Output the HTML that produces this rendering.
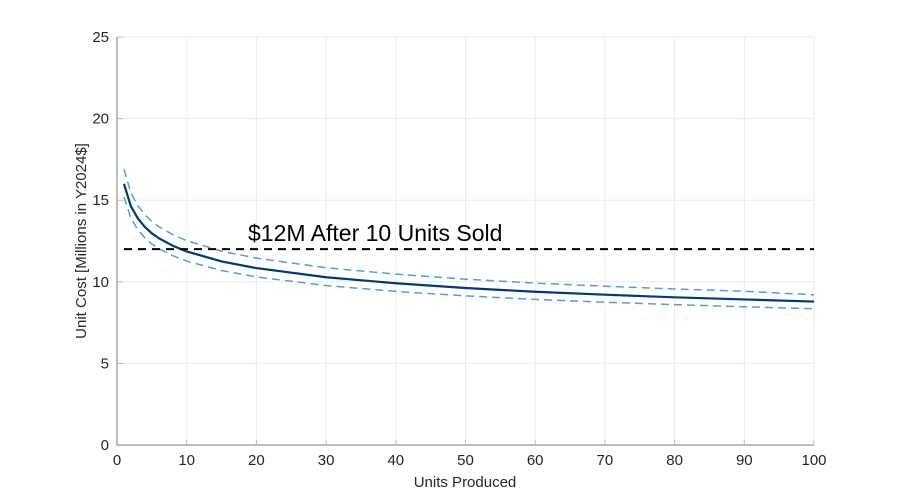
<!DOCTYPE html>
<html><head><meta charset="utf-8">
<style>
html,body{margin:0;padding:0;background:#fff;}
svg{display:block;font-family:"Liberation Sans",sans-serif;}
</style></head>
<body>
<svg id="chart" width="900" height="500" viewBox="0 0 900 500" xmlns="http://www.w3.org/2000/svg">
<g id="grid"></g>
<g id="axes"></g>
<g id="series"></g>
<text x="465" y="487" font-size="15" fill="#262626" text-anchor="middle">Units Produced</text>
<text transform="translate(86,241) rotate(-90)" font-size="15" fill="#262626" text-anchor="middle">Unit Cost  [Millions in Y2024$]</text>
<text x="248" y="241" font-size="23" fill="#000">$12M After 10 Units Sold</text>
</svg>
<script>
const units = [1,2,3,4,5,6,8,10,15,20,30,40,50,60,70,80,90,100];
const costMid = [16.0,14.62,13.88,13.36,12.97,12.67,12.21,11.86,11.25,10.84,10.28,9.91,9.62,9.39,9.21,9.05,8.92,8.79];
const costUpper = [16.9,15.44,14.66,14.11,13.70,13.38,12.89,12.52,11.88,11.45,10.86,10.47,10.16,9.92,9.73,9.56,9.42,9.2];
const costLower = [15.2,13.89,13.19,12.69,12.32,12.04,11.60,11.27,10.69,10.30,9.77,9.41,9.14,8.92,8.75,8.60,8.47,8.35];
const thresholdValue = 12;
const thresholdX = [1,100];
const xTicks = [0,10,20,30,40,50,60,70,80,90,100];
const yTicks = [0,5,10,15,20,25];

const X0=117,X1=814,Y0=445,Y1=37;
const xs = v => X0 + (v-0)/(100-0)*(X1-X0);
const ys = v => Y0 - (v-0)/(25-0)*(Y0-Y1);
const NS="http://www.w3.org/2000/svg";
function mk(tag,parent){const e=document.createElementNS(NS,tag);parent.appendChild(e);return e;}
const grid=document.getElementById('grid'),axes=document.getElementById('axes'),series=document.getElementById('series');

xTicks.forEach(t=>{
  const l=mk('line',grid);
  
  
  l.setAttribute('x1',xs(t));l.setAttribute('x2',xs(t));l.setAttribute('y1',Y1);l.setAttribute('y2',Y0);
  l.setAttribute('stroke','#ebebeb');l.setAttribute('stroke-width','1');
  const tk=mk('line',axes);
  
  
  tk.setAttribute('x1',xs(t));tk.setAttribute('x2',xs(t));tk.setAttribute('y1',Y0);tk.setAttribute('y2',Y0-5);
  tk.setAttribute('stroke','#bdbdbd');
  const tx=mk('text',axes);
  
  
  tx.setAttribute('x',xs(t));tx.setAttribute('y',Y0+20);tx.setAttribute('text-anchor','middle');
  tx.setAttribute('font-size','15');tx.setAttribute('fill','#262626');tx.textContent=t;
});
yTicks.forEach(t=>{
  const l=mk('line',grid);
  
  
  l.setAttribute('x1',X0);l.setAttribute('x2',X1);l.setAttribute('y1',ys(t));l.setAttribute('y2',ys(t));
  l.setAttribute('stroke','#ebebeb');l.setAttribute('stroke-width','1');
  const tk=mk('line',axes);
  
  
  tk.setAttribute('x1',X0);tk.setAttribute('x2',X0+6);tk.setAttribute('y1',ys(t));tk.setAttribute('y2',ys(t));
  tk.setAttribute('stroke','#bdbdbd');
  const tx=mk('text',axes);
  
  
  tx.setAttribute('x',X0-8);tx.setAttribute('y',ys(t)+5);tx.setAttribute('text-anchor','end');
  tx.setAttribute('font-size','15');tx.setAttribute('fill','#262626');tx.textContent=t;
});
const ax=mk('path',axes);


ax.setAttribute('d',`M${X0},${Y1}V${Y0}H${X1}`);
ax.setAttribute('stroke','#bdbdbd');ax.setAttribute('stroke-width','2');ax.setAttribute('fill','none');

function curve(vals,name,color,w,dash){
  const p=mk('path',series);
  
  
  p.setAttribute('d',units.map((u,i)=>(i?'L':'M')+xs(u).toFixed(2)+','+ys(vals[i]).toFixed(2)).join(''));
  p.setAttribute('stroke',color);p.setAttribute('stroke-width',w);p.setAttribute('fill','none');
  if(dash)p.setAttribute('stroke-dasharray',dash);
}
curve(costUpper,'upper-bound-line','#5b9bd5','1.5','8,5');
curve(costLower,'lower-bound-line','#5b9bd5','1.5','8,5');
curve(costMid,'unit-cost-line','#003a70','2.2',null);
const th=mk('line',series);


th.setAttribute('x1',xs(thresholdX[0]));th.setAttribute('x2',xs(thresholdX[1]));
th.setAttribute('y1',ys(thresholdValue));th.setAttribute('y2',ys(thresholdValue));
th.setAttribute('stroke','#000');th.setAttribute('stroke-width','2');th.setAttribute('stroke-dasharray','8,6');
</script>
</body></html>
